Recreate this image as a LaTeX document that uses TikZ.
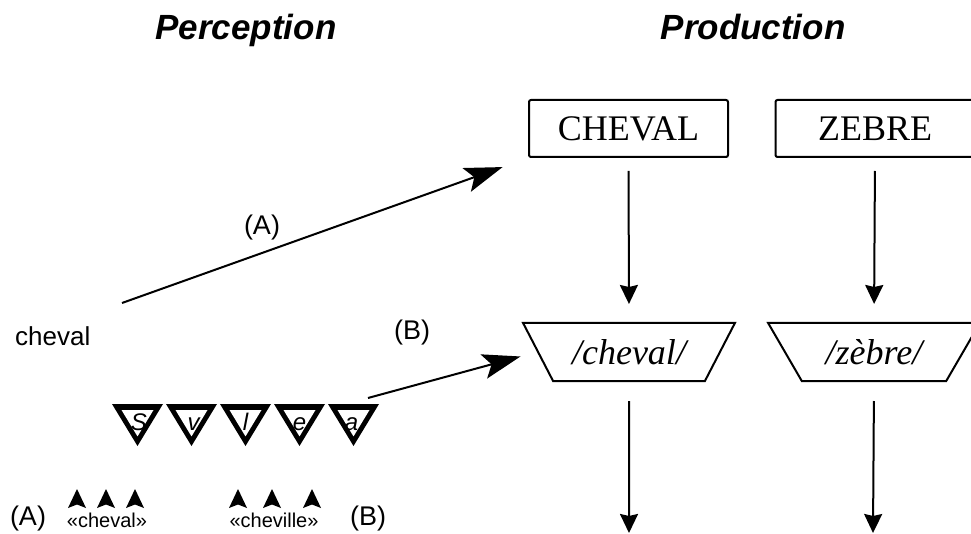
\documentclass[tikz,border=0pt]{standalone}
\usepackage{fontspec}
\setmainfont{Liberation Serif}
\setsansfont{Liberation Sans}
\usetikzlibrary{arrows.meta,shapes.geometric}

\begin{document}
\begin{tikzpicture}[x=1pt,y=-1pt,
  title/.style={font=\fontsize{35}{40}\selectfont\sffamily\bfseries\itshape, anchor=base, inner sep=0pt},
  wordbox/.style={draw, line width=2pt, rounded corners=2pt, minimum width=199pt,
    minimum height=57pt, inner sep=0pt, font=\fontsize{36}{40}\selectfont},
  formtrap/.style={draw, line width=2pt, trapezium, shape border rotate=180,
    trapezium stretches=true, trapezium angle=48.4, minimum width=212pt,
    minimum height=58pt, inner sep=0pt, font=\fontsize{36}{40}\selectfont\itshape},
  lbl/.style={font=\fontsize{27}{30}\selectfont\sffamily, inner sep=0pt},
  small/.style={font=\fontsize{20}{22}\selectfont\sffamily, inner sep=0pt, anchor=base},
  phon/.style={font=\fontsize{24}{26}\selectfont\sffamily\itshape, inner sep=0pt, anchor=base},
  bigarrow/.style={line width=2pt, -{Stealth[length=38pt,width=25pt,inset=8pt]}},
  downarrow/.style={line width=2pt, -{Stealth[length=19pt,width=18pt,inset=2pt]}},
  tick/.style={fill=black}
]
\useasboundingbox (0,0) rectangle (971,534);
\fill[white] (0,0) rectangle (971,534);
\clip (0,0) rectangle (971,534);

% headings
\node[title] (hperc) at (246,40) {Perception};
\node[title] (hprod) at (753,40) {Production};

% lexical level
\node[wordbox] (lexA) at (628.5,128.5) {CHEVAL};
\node[wordbox] (lexB) at (875,128.5) {ZEBRE};

% form level
\node[formtrap] (formA) at (629,352) {/cheval/};
\node[formtrap] (formB) at (874,352) {/zèbre/};

% output ends
\coordinate (outA) at (629,534);
\coordinate (outB) at (873,534);

\draw[downarrow, shorten <=13pt, shorten >=18pt] (lexA.south) -- (formA.north);
\draw[downarrow, shorten <=13pt, shorten >=18pt] (lexB.south) -- (formB.north);
\draw[downarrow, shorten <=19pt, shorten >=1pt] (formA.south) -- (outA);
\draw[downarrow, shorten <=19pt, shorten >=1pt] (formB.south) -- (outB);

% spoken input
\node[font=\fontsize{26}{30}\selectfont\sffamily, anchor=base west, inner sep=0pt] (word) at (15,345) {cheval};

% phoneme detectors: thick-rimmed inverted triangles
\foreach \c/\ph/\dx [count=\i] in {137.5/S/1.5,191.5/v/2,245.5/l/0,299.5/e/0,353.5/a/-2}{
  \fill[black] (\c-25.5,404) -- (\c+25.5,404) -- (\c,446) -- cycle;
  \fill[white] (\c-16,410) -- (\c+16,410) -- (\c,436.4) -- cycle;
  \node[phon] (ph\i) at (\c+\dx,430) {\ph};
}

% routes
\coordinate (startA) at (122,303);
\coordinate (startB) at (368,398);
\draw[bigarrow, shorten >=27pt] (startA) -- (lexA.south west);
\draw[bigarrow, shorten >=17pt] (startB) -- (formA.west);
\node[lbl] (rA) at (262,228) {(A)};
\node[lbl] (rB) at (412,333) {(B)};

% candidate alignment
\node[lbl, anchor=base] (cA) at (28,525) {(A)};
\node[lbl, anchor=base] (cB) at (368,525) {(B)};
\node[small] (wA) at (107,527) {«cheval»};
\node[small] (wB) at (274,527) {«cheville»};
\foreach \x in {77,106,135,238,272,312}{
  \fill[tick] (\x,489) -- (\x+9,508) -- (\x,504.5) -- (\x-9,508) -- cycle;
}
\end{tikzpicture}
\end{document}
